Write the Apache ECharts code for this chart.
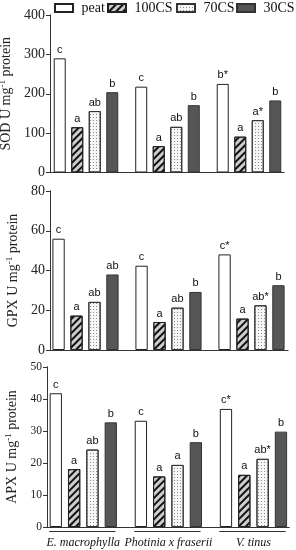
<!DOCTYPE html>
<html>
<head>
<meta charset="utf-8">
<script src="https://cdn.jsdelivr.net/npm/echarts@6/dist/echarts.min.js"></script>
<style>html,body{margin:0;padding:0;background:#fff}#c{width:296px;height:550px}</style>
</head>
<body>
<div id="c"></div>
<script>
const categories = ['E. macrophylla', 'Photinia x fraserii', 'V. tinus'];
const seriesNames = ['peat', '100CS', '70CS', '30CS'];

const sodPeat = [290, 218, 225];
const sod100 = [115, 67, 91];
const sod70 = [156, 116, 133];
const sod30 = [204, 171, 183];

const gpxPeat = [56, 42.4, 48.1];
const gpx100 = [17.3, 14.1, 15.8];
const gpx70 = [24.2, 21.3, 22.5];
const gpx30 = [38, 29.2, 32.6];

const apxPeat = [41.8, 33.2, 36.9];
const apx100 = [18.1, 15.8, 16.3];
const apx70 = [24.2, 19.4, 21.3];
const apx30 = [32.7, 26.5, 29.8];

const sodPeatL = ['c', 'c', 'b*'], sod100L = ['a', 'a', 'a'], sod70L = ['ab', 'ab', 'a*'], sod30L = ['b', 'b', 'b'];
const gpxPeatL = ['c', 'c', 'c*'], gpx100L = ['a', 'a', 'a'], gpx70L = ['ab', 'ab', 'ab*'], gpx30L = ['ab', 'b', 'b'];
const apxPeatL = ['c', 'c', 'c*'], apx100L = ['a', 'a', 'a'], apx70L = ['ab', 'a', 'ab*'], apx30L = ['b', 'b', 'b'];

const sodTicks = {min: 0, max: 400, interval: 100};
const gpxTicks = {min: 0, max: 80, interval: 20};
const apxTicks = {min: 0, max: 50, interval: 10};

const SERIF = 'Liberation Serif';
const SANS = 'Liberation Sans';
const LINE = '#333';

const styles = [
  {color: '#ffffff', borderColor: '#222', borderWidth: 1},
  {color: '#cdcdcd', borderColor: '#222', borderWidth: 1,
    decal: {symbol: 'rect', symbolSize: 1, color: '#111', dashArrayX: [1, 0], dashArrayY: [2, 3], rotation: -Math.PI / 4}},
  {color: '#f6f6f6', borderColor: '#333', borderWidth: 1,
    decal: {symbol: 'rect', symbolSize: 1, color: '#8a8a8a', dashArrayX: [1, 2], dashArrayY: [1, 2], rotation: 0}},
  {color: '#565656', borderColor: '#333', borderWidth: 1}
];

const panels = [
  {name: 'SOD', ticks: sodTicks, vals: [sodPeat, sod100, sod70, sod30], labs: [sodPeatL, sod100L, sod70L, sod30L],
    frame: {left: 50, top: 15, width: 234, height: 157.5}, bars: {left: 45.25, width: 244.5}, barW: 12, gap: '46%',
    labelSize: 14, nameGap: 7, bottomColor: '#aaa', showCats: false},
  {name: 'GPX', ticks: gpxTicks, vals: [gpxPeat, gpx100, gpx70, gpx30], labs: [gpxPeatL, gpx100L, gpx70L, gpx30L],
    frame: {left: 50, top: 191, width: 238, height: 159}, bars: {left: 44, width: 249}, barW: 12.3, gap: '46%',
    labelSize: 14, nameGap: 14, bottomColor: '#aaa', showCats: false},
  {name: 'APX', ticks: apxTicks, vals: [apxPeat, apx100, apx70, apx30], labs: [apxPeatL, apx100L, apx70L, apx30L],
    frame: {left: 47, top: 367, width: 242, height: 160}, bars: {left: 40.75, width: 255.25}, barW: 12.3, gap: '49%',
    labelSize: 11.5, nameGap: 13.5, bottomColor: LINE, showCats: true}
];

const grid = [], xAxis = [], yAxis = [], series = [];
panels.forEach((p, i) => {
  const g0 = grid.length;
  grid.push(Object.assign({outerBoundsMode: 'none', containLabel: false}, p.frame));
  grid.push({outerBoundsMode: 'none', containLabel: false, left: p.bars.left, width: p.bars.width, top: p.frame.top, height: p.frame.height});
  xAxis.push({gridIndex: g0, type: 'value', min: 0, max: 1, position: 'bottom',
    axisLine: {show: true, lineStyle: {color: p.bottomColor, width: 1}}, axisTick: {show: false}, axisLabel: {show: false}, splitLine: {show: false}});
  xAxis.push({gridIndex: g0, type: 'value', min: 0, max: 1, position: 'top',
    axisLine: {show: true, lineStyle: {color: LINE, width: 1}}, axisTick: {show: false}, axisLabel: {show: false}, splitLine: {show: false}});
  xAxis.push({gridIndex: g0 + 1, type: 'category', data: categories, position: 'bottom',
    axisLine: {show: false}, axisTick: {show: false}, splitLine: {show: false},
    axisLabel: {show: p.showCats, interval: 0, hideOverlap: false, margin: 10, fontFamily: SERIF, fontStyle: 'italic', fontSize: 12, color: '#111'}});
  yAxis.push({gridIndex: g0, type: 'value', min: p.ticks.min, max: p.ticks.max, interval: p.ticks.interval, position: 'left',
    axisLine: {show: true, lineStyle: {color: LINE, width: 1}},
    axisTick: {show: true, length: 4, lineStyle: {color: LINE}},
    axisLabel: {margin: 5, fontFamily: SERIF, fontSize: p.labelSize, color: '#222'},
    splitLine: {show: false},
    name: '{t|' + p.name + ' U mg}{s|-1}{t| protein}', nameLocation: 'middle', nameGap: p.nameGap,
    nameTextStyle: {rich: {
      t: {fontFamily: SERIF, fontSize: 14, color: '#222', lineHeight: 16},
      s: {fontFamily: SERIF, fontSize: 9, color: '#222', lineHeight: 10, verticalAlign: 'top'}
    }}});
  yAxis.push({gridIndex: g0, type: 'value', min: p.ticks.min, max: p.ticks.max, interval: p.ticks.interval, position: 'right',
    axisLine: {show: true, lineStyle: {color: LINE, width: 1}}, axisTick: {show: false}, axisLabel: {show: false}, splitLine: {show: false}});
  yAxis.push({gridIndex: g0 + 1, type: 'value', min: p.ticks.min, max: p.ticks.max, interval: p.ticks.interval, show: false});
  const xb = i * 3 + 2, yb = i * 3 + 2;
  p.vals.forEach((v, k) => {
    const labs = p.labs[k];
    series.push({
      type: 'bar', name: seriesNames[k], xAxisIndex: xb, yAxisIndex: yb, data: v,
      barWidth: p.barW, barGap: p.gap, itemStyle: styles[k],
      label: {show: true, position: 'top', distance: 3, fontFamily: SANS, fontSize: 11, color: '#111',
        formatter: (q) => labs[q.dataIndex]},
      emphasis: {disabled: true}, silent: true, animation: false
    });
  });
  if (p.showCats) {
    series.push({
      type: 'custom', xAxisIndex: xb, yAxisIndex: yb, silent: true, animation: false, clip: false, z: 10,
      encode: {x: 0, y: 1},
      data: categories.map((c, j) => [j, 0]),
      renderItem: (params, api) => {
        const j = params.dataIndex;
        const pt = api.coord([j, 0]);
        const band = api.coord([1, 0])[0] - api.coord([0, 0])[0];
        const w = band * 0.78;
        const cx = pt[0] - 1;
        return {type: 'line', shape: {x1: cx - w / 2, y1: pt[1] + 4.5, x2: cx + w / 2, y2: pt[1] + 4.5},
          style: {stroke: LINE, lineWidth: 1}};
      }
    });
  }
});

const legendLeft = [54, 107, 176, 236];
const legend = seriesNames.map((n, k) => ({
  data: [n], top: 1, left: legendLeft[k], icon: 'rect', itemWidth: 18, itemHeight: 8,
  padding: 0, formatter: (s) => ' ' + s,
  textStyle: {fontFamily: SERIF, fontSize: 14, color: '#111'}
}));

const chart = echarts.init(document.getElementById('c'), null, {renderer: 'canvas'});
chart.setOption({
  animation: false,
  backgroundColor: '#fff',
  legend,
  grid, xAxis, yAxis, series
});
</script>
</body>
</html>
